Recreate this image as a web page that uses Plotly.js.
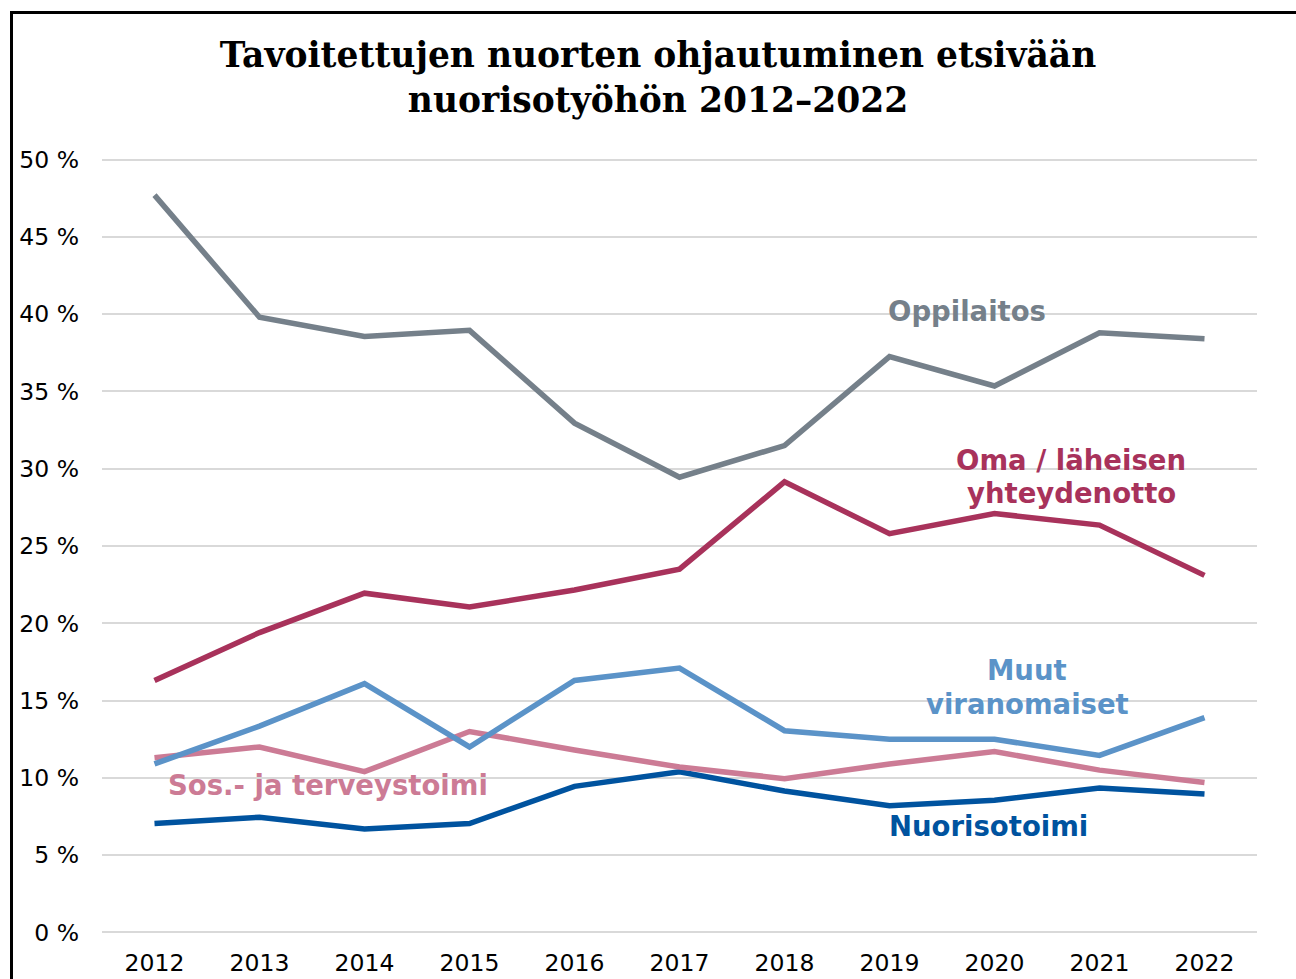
<!DOCTYPE html>
<html>
<head>
<meta charset="utf-8">
<script src="https://cdn.plot.ly/plotly-3.0.1.min.js"></script>
<style>
  html, body { margin: 0; padding: 0; background: #fff; }
  #wrap { position: relative; width: 1296px; height: 979px; overflow: hidden; }
  #chart { position: absolute; left: 0; top: 0; width: 1296px; height: 979px; }
  #frame { position: absolute; left: 10px; top: 11px; width: 2000px; height: 2000px;
           border-left: 3px solid #000; border-top: 3px solid #000; pointer-events: none; }
</style>
</head>
<body>
<div id="wrap">
  <div id="chart"></div>
  <div id="frame"></div>
</div>
<script>
const years = ['2012','2013','2014','2015','2016','2017','2018','2019','2020','2021','2022'];
const oppilaitos = [47.7, 39.8, 38.55, 38.95, 32.95, 29.45, 31.5, 37.25, 35.35, 38.8, 38.4];
const omaLaheisen = [16.3, 19.4, 21.95, 21.05, 22.15, 23.5, 29.15, 25.8, 27.1, 26.35, 23.1];
const muutViranomaiset = [10.9, 13.35, 16.1, 12.0, 16.3, 17.1, 13.05, 12.5, 12.5, 11.45, 13.9];
const sosTerveys = [11.3, 12.0, 10.4, 13.0, 11.8, 10.7, 9.95, 10.9, 11.7, 10.5, 9.7];
const nuorisotoimi = [7.05, 7.45, 6.7, 7.05, 9.45, 10.4, 9.15, 8.2, 8.55, 9.35, 8.95];
const yTicks = [0, 5, 10, 15, 20, 25, 30, 35, 40, 45, 50];
const yTickText = yTicks.map(v => v + ' %');

const colors = {
  opp: '#75808a',
  oma: '#a8325b',
  muut: '#5b93c8',
  sos: '#cc7b95',
  nuo: '#00539f'
};

function line(y, name, color) {
  return { x: years, y: y, name: name, type: 'scatter', mode: 'lines',
           line: { color: color, width: 5.5 }, hoverinfo: 'skip' };
}

const traces = [
  line(oppilaitos, 'Oppilaitos', colors.opp),
  line(omaLaheisen, 'Oma / läheisen yhteydenotto', colors.oma),
  line(nuorisotoimi, 'Nuorisotoimi', colors.nuo),
  line(sosTerveys, 'Sos.- ja terveystoimi', colors.sos),
  line(muutViranomaiset, 'Muut viranomaiset', colors.muut)
];

const labFont = (c) => ({ family: 'DejaVu Sans', size: 27.5, color: c, weight: 'bold' });
function lab(text, x, y, c) {
  return { text: text, x: x, y: y, xref: 'x', yref: 'y', showarrow: false,
           xanchor: 'center', yanchor: 'middle', font: labFont(c) };
}

const layout = {
  width: 1296, height: 979,
  paper_bgcolor: '#fff', plot_bgcolor: '#fff',
  margin: { l: 102, r: 39, t: 158, b: 45 },
  showlegend: false,
  title: {
    text: 'Tavoitettujen nuorten ohjautuminen etsivään<br>nuorisotyöhön 2012–2022',
    font: { family: 'DejaVu Serif', size: 34.5, color: '#000', weight: 'bold' },
    x: 658 / 1296, xanchor: 'center', xref: 'container',
    y: 1 - 67 / 979, yanchor: 'top', yref: 'container'
  },
  xaxis: {
    type: 'category', range: [-0.5, 10.5],
    showgrid: false, zeroline: false, showline: false, ticks: '',
    tickfont: { family: 'DejaVu Sans', size: 23.5, color: '#000' },
    ticklabelstandoff: 12
  },
  yaxis: {
    range: [-0.1, 50.1], tickmode: 'array', tickvals: yTicks, ticktext: yTickText,
    showgrid: true, gridcolor: '#d9d9d9', gridwidth: 2,
    zeroline: false, showline: false, ticks: '',
    tickfont: { family: 'DejaVu Sans', size: 23.5, color: '#000' },
    ticklabelstandoff: 22
  },
  annotations: [
    lab('Oppilaitos', 7.74, 40.2, colors.opp),
    lab('Oma / läheisen', 8.73, 30.57, colors.oma),
    lab('yhteydenotto', 8.73, 28.43, colors.oma),
    lab('Muut', 8.31, 16.97, colors.muut),
    lab('viranomaiset', 8.31, 14.77, colors.muut),
    lab('Sos.- ja terveystoimi', 1.65, 9.52, colors.sos),
    lab('Nuorisotoimi', 7.94, 6.87, colors.nuo)
  ]
};

Plotly.newPlot('chart', traces, layout, { staticPlot: true, displayModeBar: false });
</script>
</body>
</html>
